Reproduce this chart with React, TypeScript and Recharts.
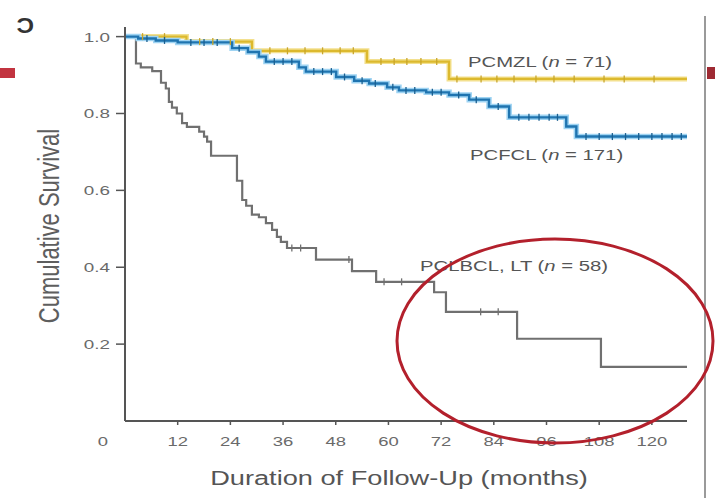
import { LineChart, Line, XAxis, YAxis } from 'recharts';

// ── Axis ticks ──────────────────────────────────────────────
const xTicks = [0, 12, 24, 36, 48, 60, 72, 84, 96, 108, 120];
const yTicks = [0.2, 0.4, 0.6, 0.8, 1.0];

// ── Kaplan-Meier steps (months, cumulative survival) ────────
const pcmzlTimes = [0, 14, 28.9, 55.1, 73.8, 128];
const pcmzlSurv = [1.0, 0.987, 0.963, 0.935, 0.89, 0.89];
const pcmzlCensored = [
  4, 9, 17, 20, 24, 33, 37, 41, 45, 49, 52, 58.3, 61.3, 64.2, 67.4, 71, 75.6, 81.1, 84.7,
  88.6, 93.6, 97.7, 102.3, 109.1, 113.7, 120.5,
];

const pcfclTimes = [
  0, 3, 7, 12, 24.4, 28, 30.5, 32.1, 39.6, 41.2, 48.1, 52.2, 55.6, 59.7, 62.4, 68.6, 73.8,
  78.4, 82.9, 87.5, 100.5, 102.8, 128,
];
const pcfclSurv = [
  1.0, 0.995, 0.99, 0.985, 0.97, 0.96, 0.948, 0.935, 0.92, 0.909, 0.895, 0.885, 0.878, 0.868,
  0.86, 0.855, 0.848, 0.836, 0.818, 0.79, 0.766, 0.74, 0.74,
];
const pcfclCensored = [
  5, 9, 15, 18, 21, 26, 34, 36, 38, 43, 45, 47, 50, 54, 57, 61, 64, 66, 70, 72, 76, 80, 85,
  89.7, 92, 94.3, 96.6, 98.5, 105, 108, 111, 114, 117, 120, 122.3, 124.6, 126.7,
];

const pclbclTimes = [
  0, 2.5, 3.6, 6.2, 8.2, 9.3, 10, 10.7, 11.8, 13, 14.1, 16.9, 18, 18.7, 19.6, 25.5, 26.7, 27.6,
  28.9, 30.5, 32.1, 33.5, 34.6, 35.5, 36.9, 43.5, 51.7, 57.2, 70.4, 73.1, 89.3, 108.4, 128,
];
const pclbclSurv = [
  1.0, 0.93, 0.92, 0.91, 0.88, 0.865, 0.83, 0.815, 0.8, 0.775, 0.765, 0.753, 0.74, 0.727, 0.69,
  0.625, 0.575, 0.56, 0.537, 0.53, 0.515, 0.497, 0.479, 0.466, 0.45, 0.42, 0.39, 0.362, 0.335,
  0.284, 0.214, 0.141, 0.141,
];
const pclbclCensored = [38, 40, 51, 59, 63, 81, 85];

type Pt = { t: number; s: number; c: boolean };

function buildSeries(times: number[], surv: number[], censored: number[]): Pt[] {
  const pts: Pt[] = times.map((t, i) => ({ t, s: surv[i], c: false }));
  censored.forEach((t) => {
    let s = surv[0];
    times.forEach((tt, i) => {
      if (tt <= t) s = surv[i];
    });
    pts.push({ t, s, c: true });
  });
  return pts.sort((a, b) => a.t - b.t || (a.c ? 1 : -1));
}

const pcmzl = buildSeries(pcmzlTimes, pcmzlSurv, pcmzlCensored);
const pcfcl = buildSeries(pcfclTimes, pcfclSurv, pcfclCensored);
const pclbcl = buildSeries(pclbclTimes, pclbclSurv, pclbclCensored);

const FONT = '"Liberation Sans", Arial, sans-serif';
const TICK_GRAY = '#6a6a6a';
const AXIS = '#555555';

// text squeezed wide like the scanned figure
function Wide({
  x,
  y,
  sx,
  size,
  fill,
  anchor = 'start',
  rotate,
  children,
}: {
  x: number;
  y: number;
  sx: number;
  size: number;
  fill: string;
  anchor?: 'start' | 'middle' | 'end';
  rotate?: number;
  children: any;
}) {
  return (
    <text
      transform={`translate(${x},${y}) scale(${sx},1)${rotate ? ` rotate(${rotate})` : ''}`}
      fontSize={size}
      fill={fill}
      textAnchor={anchor}
      fontFamily={FONT}
    >
      {children}
    </text>
  );
}

function XTick(props: any) {
  const { x, y, payload } = props;
  const v = payload.value;
  return (
    <g>
      {v !== 0 && <line x1={x} x2={x} y1={y} y2={y + 4} stroke={AXIS} strokeWidth={1.5} />}
      <Wide x={v === 0 ? x - 22 : x} y={y + 25} sx={1.42} size={13} fill={TICK_GRAY} anchor="middle">
        {v}
      </Wide>
    </g>
  );
}

function YTick(props: any) {
  const { x, y, payload } = props;
  return (
    <g>
      <line x1={x - 9} x2={x} y1={y} y2={y} stroke={AXIS} strokeWidth={1.5} />
      <Wide x={x - 15} y={y + 5} sx={1.45} size={13} fill={TICK_GRAY} anchor="end">
        {payload.value.toFixed(1)}
      </Wide>
    </g>
  );
}

const censorDot = (color: string) => (p: any) => {
  const { cx, cy, payload, index } = p;
  if (!payload || !payload.c) return <g key={index} />;
  return (
    <line key={index} x1={cx} x2={cx} y1={cy - 3.5} y2={cy + 3.5} stroke={color} strokeWidth={1.3} />
  );
};

export default function App() {
  return (
    <div
      style={{
        position: 'absolute',
        left: 0,
        top: 0,
        width: 715,
        height: 498,
        background: '#ffffff',
        overflow: 'hidden',
      }}
    >
      <LineChart width={715} height={498} margin={{ top: 27, right: 28, left: 65, bottom: 47 }}>
        <XAxis
          type="number"
          dataKey="t"
          domain={[0, 128]}
          ticks={xTicks}
          allowDataOverflow
          tick={XTick}
          tickLine={false}
          tickSize={0}
          tickMargin={0}
          height={30}
          axisLine={{ stroke: AXIS, strokeWidth: 2 }}
        />
        <YAxis
          type="number"
          domain={[0, 1.025]}
          ticks={yTicks}
          allowDataOverflow
          tick={YTick}
          tickLine={false}
          tickSize={0}
          tickMargin={0}
          width={60}
          axisLine={{ stroke: AXIS, strokeWidth: 2 }}
        />

        {/* PCLBCL, LT */}
        <Line
          data={pclbcl}
          dataKey="s"
          type="stepAfter"
          stroke="#707070"
          strokeWidth={2.2}
          dot={censorDot('#707070')}
          activeDot={false}
          isAnimationActive={false}
        />

        {/* PCMZL */}
        <Line
          data={pcmzl}
          dataKey="s"
          type="stepAfter"
          stroke="#f3e08e"
          strokeWidth={5}
          dot={false}
          activeDot={false}
          isAnimationActive={false}
        />
        <Line
          data={pcmzl}
          dataKey="s"
          type="stepAfter"
          stroke="#dcb92e"
          strokeWidth={2.2}
          dot={censorDot('#c9a62a')}
          activeDot={false}
          isAnimationActive={false}
        />

        {/* PCFCL */}
        <Line
          data={pcfcl}
          dataKey="s"
          type="stepAfter"
          stroke="#9fd4f3"
          strokeWidth={5.5}
          dot={false}
          activeDot={false}
          isAnimationActive={false}
        />
        <Line
          data={pcfcl}
          dataKey="s"
          type="stepAfter"
          stroke="#1f74b0"
          strokeWidth={2.4}
          dot={censorDot('#1a5f90')}
          activeDot={false}
          isAnimationActive={false}
        />
      </LineChart>

      <svg
        width={715}
        height={498}
        style={{ position: 'absolute', left: 0, top: 0, pointerEvents: 'none' }}
      >
        {/* axis titles */}
        <Wide x={59} y={226} sx={1.3} size={22} fill="#5e5e5e" anchor="middle" rotate={-90}>
          Cumulative Survival
        </Wide>
        <Wide x={399} y={485} sx={1.36} size={20} fill="#555555" anchor="middle">
          Duration of Follow-Up (months)
        </Wide>

        {/* curve labels */}
        <Wide x={468} y={67} sx={1.45} size={14} fill="#555555">
          PCMZL (<tspan fontStyle="italic">n</tspan> = 71)
        </Wide>
        <Wide x={470} y={160} sx={1.45} size={14} fill="#555555">
          PCFCL (<tspan fontStyle="italic">n</tspan> = 171)
        </Wide>
        <Wide x={420} y={271} sx={1.45} size={14} fill="#555555">
          PCLBCL, LT (<tspan fontStyle="italic">n</tspan> = 58)
        </Wide>

        {/* panel letter and page bits */}
        <text
          transform="translate(34,33) scale(-1.1,1)"
          fontSize={22}
          fontWeight="bold"
          fill="#333"
          fontFamily={FONT}
        >
          C
        </text>
        <rect x={0} y={68} width={15} height={10} fill="#c23440" />
        <line x1={705} x2={705} y1={16} y2={498} stroke="#9a9a9a" strokeWidth={2} />
        <rect x={707} y={67} width={8} height={12} fill="#9e2a33" />

        {/* red annotation ellipse */}
        <ellipse cx={555} cy={341} rx={158} ry={102} fill="none" stroke="#b3202c" strokeWidth={3} />
      </svg>
    </div>
  );
}
